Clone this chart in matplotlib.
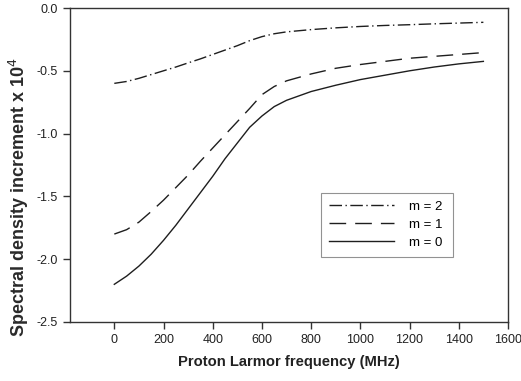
import matplotlib
matplotlib.use("Agg")
import matplotlib.pyplot as plt

plt.rcParams['font.family'] = ['Liberation Sans', 'DejaVu Sans']

# Proton Larmor frequency (MHz)
freq = [0, 50, 100, 150, 200, 250, 300, 350, 400, 450, 500, 550, 600, 650, 700,
        800, 900, 1000, 1100, 1200, 1300, 1400, 1500]

# Spectral density increment x 10^4
m2 = [-0.60, -0.585, -0.56, -0.53, -0.50, -0.47, -0.437, -0.405, -0.37, -0.335,
      -0.30, -0.26, -0.228, -0.205, -0.19, -0.172, -0.158, -0.147, -0.139,
      -0.133, -0.126, -0.12, -0.114]
m1 = [-1.80, -1.765, -1.705, -1.62, -1.53, -1.43, -1.33, -1.22, -1.115, -1.01,
      -0.905, -0.80, -0.69, -0.625, -0.58, -0.525, -0.48, -0.45, -0.425,
      -0.40, -0.385, -0.37, -0.355]
m0 = [-2.20, -2.135, -2.055, -1.96, -1.85, -1.73, -1.60, -1.47, -1.34, -1.20,
      -1.075, -0.95, -0.86, -0.785, -0.735, -0.665, -0.615, -0.57, -0.535,
      -0.50, -0.47, -0.445, -0.425]

xticks = [0, 200, 400, 600, 800, 1000, 1200, 1400, 1600]
yticks = [0.0, -0.5, -1.0, -1.5, -2.0, -2.5]

fig = plt.figure(figsize=(5.21, 3.81), dpi=100)
ax = fig.add_axes([0.1344, 0.1549, 0.8406, 0.8241])

col = '#1e1e1e'
ax.plot(freq, m2, color=col, lw=1.0, dashes=(9, 2.5, 1, 2.5), label='m = 2')
ax.plot(freq, m1, color=col, lw=1.0, dashes=(12, 6.5), label='m = 1')
ax.plot(freq, m0, color=col, lw=1.0, label='m = 0')

ax.set_xlim(-180, 1600)
ax.set_ylim(-2.5, 0.0)
ax.set_xticks(xticks)
ax.set_yticks(yticks)
ax.set_yticklabels(['%.1f' % v for v in yticks])

for s in ax.spines.values():
    s.set_color('#333333')
    s.set_linewidth(1.0)
ax.tick_params(direction='out', length=5, width=1, colors='#333333',
               labelcolor='#222222', labelsize=9)

ax.set_xlabel('Proton Larmor frequency (MHz)', fontsize=10.6, fontweight='bold', color='#222222')
ax.set_ylabel('Spectral density increment x 10$^4$', fontsize=13, fontweight='bold', color='#2a2a2a')
ax.xaxis.set_label_coords(0.5, -0.105)
ax.yaxis.set_label_coords(-0.09, 0.398)

leg = ax.legend(loc='lower left', bbox_to_anchor=(0.573, 0.207, 0.301, 0.201), mode='expand',
                fontsize=9.5, frameon=True, fancybox=False, handlelength=4.9,
                borderpad=0.6, labelspacing=0.45, handletextpad=1.2, borderaxespad=0)
leg.get_frame().set_edgecolor('#777777')
leg.get_frame().set_linewidth(0.8)

fig.savefig('out.png', dpi=100)
